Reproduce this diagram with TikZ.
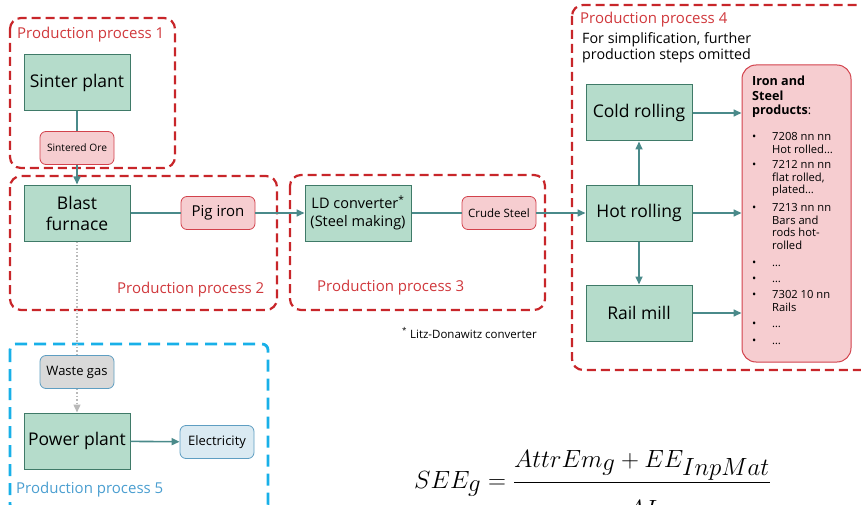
\documentclass[tikz,border=0pt]{standalone}
\usepackage{fontspec}
\setmainfont{Open Sans}
\usetikzlibrary{arrows.meta}

\definecolor{boxgreen}{HTML}{B5DCCB}
\definecolor{boxline}{HTML}{3F7A68}
\definecolor{flowteal}{HTML}{4A8A8A}
\definecolor{ppred}{HTML}{C8262A}
\definecolor{pptext}{HTML}{D0383C}
\definecolor{pinkfill}{HTML}{F6CDD0}
\definecolor{pinkline}{HTML}{D2424C}
\definecolor{ppblue}{HTML}{18B0E8}
\definecolor{ppbluetext}{HTML}{4A9ED0}
\definecolor{elecfill}{HTML}{DAEAF2}
\definecolor{elecline}{HTML}{5E9EC2}
\definecolor{gasfill}{HTML}{D9D9D9}

\tikzset{
  procbox/.style={draw=boxline, fill=boxgreen, line width=1pt, minimum width=106pt,
    minimum height=56pt, align=center, inner sep=2pt, font=\fontsize{17.5}{21}\selectfont},
  matbox/.style={draw=pinkline, fill=pinkfill, line width=0.8pt, rounded corners=6pt,
    minimum width=74pt, minimum height=33pt, inner sep=2pt},
  framered/.style={draw=ppred, line width=2.2pt, rounded corners=11pt, dash pattern=on 9pt off 5pt},
  frameblue/.style={draw=ppblue, line width=2.8pt, rounded corners=6pt, dash pattern=on 12pt off 7pt},
  pplabel/.style={text=pptext, font=\fontsize{15}{18}\selectfont, inner sep=0pt},
  flow/.style={draw=flowteal, line width=1.6pt, -{Triangle[length=8pt,width=7pt]}},
  gasflow/.style={draw=gray!55, line width=1.4pt, dotted, -{Triangle[length=8pt,width=7pt]}}
}

\begin{document}
\begin{tikzpicture}[x=1pt,y=-1pt]
\useasboundingbox (0,0) rectangle (861,505);
\clip (0,0) rectangle (861,505);

% Production frames
\draw[framered] (10,18) rectangle (175,168);
\draw[framered] (10,176) rectangle (277,310);
\draw[framered] (290,175) rectangle (545,310);
\draw[framered] (572,5) rectangle (880,370);
\draw[frameblue] (10,344) rectangle (268,510);

% Frame labels
\node[pplabel, anchor=west] (pp1) at (17,35) {Production process 1};
\node[pplabel, anchor=west] (pp2) at (117,290) {Production process 2};
\node[pplabel, anchor=west] (pp3) at (317,288) {Production process 3};
\node[pplabel, anchor=west] (pp4) at (580,20) {Production process 4};
\node[pplabel, anchor=west, text=ppbluetext] (pp5) at (16,490) {Production process 5};
\node[anchor=north west, align=left, inner sep=0pt, font=\fontsize{14.3}{16}\selectfont]
  (simpl) at (582,32) {For simplification, further\\production steps omitted};

% Process boxes
\node[procbox] (sinter) at (77,83) {Sinter plant};
\node[procbox] (blast) at (77,213) {Blast\\furnace};
\node[procbox, font=\fontsize{14.5}{18}\selectfont] (ldconv) at (358,213) {LD converter\textsuperscript{*}\\(Steel making)};
\node[procbox] (cold) at (639,113) {Cold rolling};
\node[procbox] (hot) at (639,213) {Hot rolling};
\node[procbox] (rail) at (639,313) {Rail mill};
\node[procbox] (power) at (77,441) {Power plant};

% Material boxes
\node[matbox, font=\fontsize{10.2}{12}\selectfont] (ore) at (77,148) {Sintered Ore};
\node[matbox, font=\fontsize{15}{17}\selectfont] (pig) at (218,213) {Pig iron};
\node[matbox, font=\fontsize{11.5}{13}\selectfont] (crude) at (499,213) {Crude Steel};
\node[matbox, draw=elecline, fill=gasfill, font=\fontsize{13}{15}\selectfont] (gas) at (77,372) {Waste gas};
\node[matbox, draw=elecline, fill=elecfill, font=\fontsize{13}{15}\selectfont] (elec) at (217,442) {Electricity};

% Products box
\node[draw=pinkline, fill=pinkfill, line width=1pt, rounded corners=14pt, minimum width=109pt,
  minimum height=297pt] (prod) at (796.5,213.5) {};
\node[anchor=north west, align=left, inner sep=0pt, font=\fontsize{12.6}{14.5}\selectfont\bfseries]
  (prodhead) at (752,76) {Iron and\\Steel\\products\mdseries:};
\begin{scope}[font=\fontsize{11.2}{12.5}\selectfont]
  \foreach \yy/\txt in {132/{7208 nn nn\\Hot rolled\dots},
                        160/{7212 nn nn\\flat rolled,\\plated\dots},
                        203/{7213 nn nn\\Bars and\\rods hot-\\rolled},
                        258/{\dots}, 274/{\dots},
                        290/{7302 10 nn\\Rails},
                        319/{\dots}, 336/{\dots}}{
    \node[anchor=north west, inner sep=0pt] at (752,\yy) {\strut\textbullet};
    \node[anchor=north west, align=left, inner sep=0pt] at (772,\yy) {\strut\txt};
  }
\end{scope}

% Flows
\draw[flow, -] (sinter) -- (ore);
\draw[flow] (ore) -- (blast);
\draw[flow, -] (blast) -- (pig);
\draw[flow] (pig) -- (ldconv);
\draw[flow, -] (ldconv) -- (crude);
\draw[flow] (crude) -- (hot);
\draw[flow] (hot) -- (cold);
\draw[flow] (hot) -- (rail);
\draw[flow] (cold.east) -- (cold.east -| prod.west);
\draw[flow] (hot.east) -- (hot.east -| prod.west);
\draw[flow] (rail.east) -- (rail.east -| prod.west);
\draw[flow] (power) -- (elec);
\draw[gasflow, -] (blast) -- (gas);
\draw[gasflow] (gas) -- (power);

% Footnote and formula
\node[anchor=west, inner sep=0pt, font=\fontsize{11.5}{13}\selectfont] (foot) at (402,333)
  {\textsuperscript{*} Litz-Donawitz converter};
\node[anchor=base west, inner sep=0pt, font=\fontsize{38.5}{46}\selectfont] (formula) at (414,488)
  {$\displaystyle SEE_g = \frac{AttrEm_g + EE_{InpMat}}{\rule{0pt}{34pt}AI}$};
\end{tikzpicture}
\end{document}
